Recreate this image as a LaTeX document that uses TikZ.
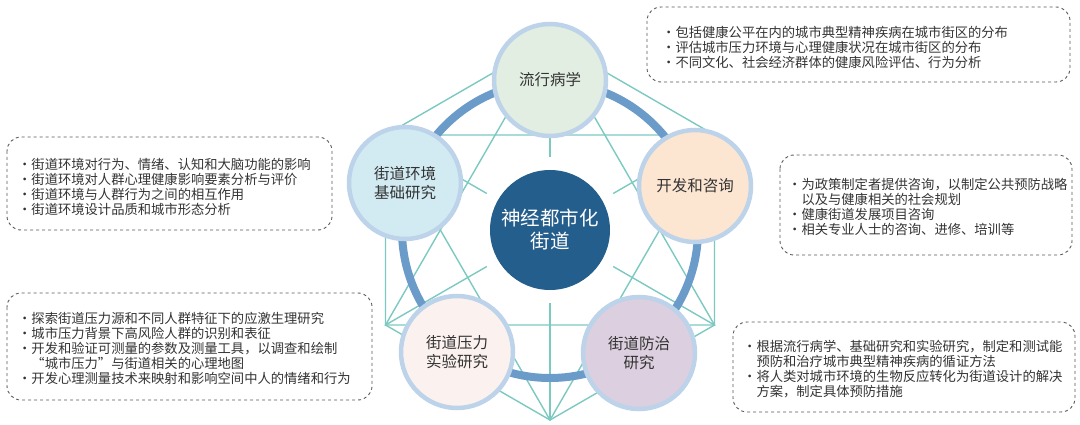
\documentclass[tikz,border=0pt]{standalone}
\usepackage{fontspec}
\setmainfont{Noto Sans CJK SC}
\usetikzlibrary{calc}
\definecolor{netline}{HTML}{7CC9C2}
\definecolor{ringblue}{HTML}{6A9BC9}
\definecolor{rimblue}{HTML}{BDD3EA}
\definecolor{coreblue}{HTML}{245E8C}
\definecolor{txtgray}{HTML}{333333}

\begin{document}
\begin{tikzpicture}[x=1pt,y=-1pt]
\tikzstyle{net} = [netline, line width=1.4pt]
\tikzstyle{ring} = [ringblue, line width=8pt]
\tikzstyle{topic} = [circle, minimum size=112pt, inner sep=0pt, draw=rimblue, line width=4.5pt, align=center, text=txtgray, font=\fontsize{15.5}{19}\selectfont]
\tikzstyle{core} = [circle, minimum size=120pt, inner sep=0pt, fill=coreblue, text=white, align=center, font=\fontsize{19.5}{23}\selectfont]
\tikzstyle{notebox} = [draw=gray!70!black, dashed, line width=0.9pt, rounded corners=14pt]
\tikzstyle{notes} = [anchor=west, align=left, inner sep=0pt, text=txtgray, font=\fontsize{13.3}{15}\selectfont]
\useasboundingbox (0,0) rectangle (1080,425);

%hexagon corners
\coordinate (c) at (550,230);
\coordinate (h1) at (550,40);
\coordinate (h2) at (714.5,135);
\coordinate (h3) at (714.5,325);
\coordinate (h4) at (550,420);
\coordinate (h5) at (385.5,325);
\coordinate (h6) at (385.5,135);

%net
\draw [net] (h1) -- (h2) -- (h3) -- (h4) -- (h5) -- (h6) -- cycle;
\draw [net] (h1) -- (h3) -- (h5) -- cycle;
\draw [net] (h4) -- (h6) -- (h2) -- cycle;
\foreach \h in {h1,h2,h3,h4,h5,h6}
  \draw [net, shorten <=73pt] (c) -- (\h);
\draw [ring] (c) circle (148pt);

%nodes
\node (core) [core] at (c) {神经都市化\\街道};
\node (epi) [topic, fill={rgb,255:red,226;green,238;blue,226}] at (550,80) {流行病学};
\node (base) [topic, fill={rgb,255:red,210;green,235;blue,243}] at (405,183) {街道环境\\基础研究};
\node (consult) [topic, fill={rgb,255:red,252;green,230;blue,210}] at (695,186) {开发和咨询};
\node (stress) [topic, fill={rgb,255:red,251;green,241;blue,239}] at (457,352) {街道压力\\实验研究};
\node (prevent) [topic, fill={rgb,255:red,220;green,207;blue,223}] at (639,353) {街道防治\\研究};

%notes
\draw [notebox] (647,7) rectangle (1070,82);
\node (epinote) [notes] at (662,47) {・包括健康公平在内的城市典型精神疾病在城市街区的分布\\・评估城市压力环境与心理健康状况在城市街区的分布\\・不同文化、社会经济群体的健康风险评估、行为分析};
\draw [notebox] (7,137) rectangle (332,230);
\node (basenote) [notes] at (18,187) {・街道环境对行为、情绪、认知和大脑功能的影响\\・街道环境对人群心理健康影响要素分析与评价\\・街道环境与人群行为之间的相互作用\\・街道环境设计品质和城市形态分析};
\draw [notebox] (780,155) rectangle (1072,255);
\node (consultnote) [notes] at (788,207) {・为政策制定者提供咨询，以制定公共预防战略\\\phantom{・}以及与健康相关的社会规划\\・健康街道发展项目咨询\\・相关专业人士的咨询、进修、培训等};
\draw [notebox] (7,293) rectangle (372,400);
\node (stressnote) [notes] at (18,348) {・探索街道压力源和不同人群特征下的应激生理研究\\・城市压力背景下高风险人群的识别和表征\\・开发和验证可测量的参数及测量工具，以调查和绘制\\\phantom{・}“城市压力”与街道相关的心理地图\\・开发心理测量技术来映射和影响空间中人的情绪和行为};
\draw [notebox] (733,322) rectangle (1075,412);
\node (preventnote) [notes] at (743,369) {・根据流行病学、基础研究和实验研究，制定和测试能\\\phantom{・}预防和治疗城市典型精神疾病的循证方法\\・将人类对城市环境的生物反应转化为街道设计的解决\\\phantom{・}方案，制定具体预防措施};
\end{tikzpicture}
\end{document}
